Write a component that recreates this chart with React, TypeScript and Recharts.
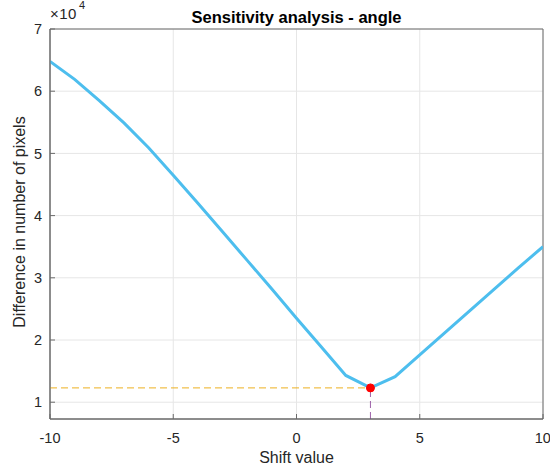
import React from "react";
import {
  LineChart,
  Line,
  XAxis,
  YAxis,
  CartesianGrid,
  ReferenceLine,
  ReferenceDot,
  ReferenceArea,
} from "recharts";

const shifts = [-10, -9, -8, -7, -6, -5, -4, -3, -2, -1, 0, 1, 2, 3, 4, 5, 6, 7, 8, 9, 10];
const pixelDiff = [
  64800, 61900, 58500, 54900, 50900, 46500, 42000, 37400, 32800, 28200, 23500,
  18900, 14300, 12300, 14100, 17600, 21100, 24600, 28100, 31600, 35000,
];
const xTicks = [-10, -5, 0, 5, 10];
const yTicks = [10000, 20000, 30000, 40000, 50000, 60000, 70000];

const minShift = 3;
const minDiff = 12300;

const data = shifts.map((s, i) => ({ shift: s, diff: pixelDiff[i] }));

const font = "'Liberation Sans', Arial, Helvetica, sans-serif";
const axisColor = "#6b6b6b";

export default function App() {
  return (
    <div
      style={{
        position: "absolute",
        left: 0,
        top: 0,
        width: 550,
        height: 469,
        background: "#fff",
        fontFamily: font,
      }}
    >
      <div
        style={{
          position: "absolute",
          left: 50,
          width: 493,
          top: 8,
          textAlign: "center",
          fontWeight: "bold",
          fontSize: 16.5,
          color: "#000",
          whiteSpace: "nowrap",
        }}
      >
        Sensitivity analysis - angle
      </div>
      <div
        style={{
          position: "absolute",
          left: 50,
          top: 5,
          fontSize: 15,
          color: "#262626",
          whiteSpace: "nowrap",
          letterSpacing: 0.5,
        }}
      >
        ×10
      </div>
      <div
        style={{
          position: "absolute",
          left: 79,
          top: -1,
          fontSize: 11,
          color: "#262626",
        }}
      >
        4
      </div>
      <div
        style={{
          position: "absolute",
          left: 20 - 150,
          top: 222 - 9,
          width: 300,
          textAlign: "center",
          fontSize: 16,
          color: "#262626",
          transform: "rotate(-90deg)",
          whiteSpace: "nowrap",
        }}
      >
        Difference in number of pixels
      </div>
      <div
        style={{
          position: "absolute",
          left: 50,
          width: 493,
          top: 449,
          textAlign: "center",
          fontSize: 16,
          color: "#262626",
        }}
      >
        Shift value
      </div>

      <LineChart
        width={550}
        height={469}
        data={data}
        margin={{ top: 29, right: 7, bottom: 0, left: 0 }}
        style={{ fontFamily: font }}
      >
        <CartesianGrid stroke="#e6e6e6" />
        <XAxis
          dataKey="shift"
          type="number"
          domain={[-10, 10]}
          ticks={xTicks}
          height={50}
          stroke={axisColor}
          tickSize={-5}
          tickMargin={19}
          tick={{ fill: "#262626", fontSize: 14.5 }}
          allowDataOverflow
        />
        <YAxis
          type="number"
          domain={[7300, 70000]}
          ticks={yTicks}
          width={50}
          stroke={axisColor}
          tickSize={-5}
          tickMargin={13}
          tickFormatter={(v: number) => String(v / 10000)}
          tick={{ fill: "#262626", fontSize: 14.5 }}
          allowDataOverflow
        />
        <ReferenceArea
          x1={-10}
          x2={10}
          y1={7300}
          y2={70000}
          fill="none"
          stroke={axisColor}
          strokeWidth={1}
        />
        <ReferenceLine
          segment={[
            { x: -10, y: minDiff },
            { x: minShift, y: minDiff },
          ]}
          stroke="#EDB120"
          strokeDasharray="7 4"
          strokeWidth={1}
        />
        <ReferenceLine
          segment={[
            { x: minShift, y: 7300 },
            { x: minShift, y: minDiff },
          ]}
          stroke="#7E2F8E"
          strokeOpacity={0.75}
          strokeDasharray="7 4"
          strokeWidth={1}
        />
        <Line
          type="linear"
          dataKey="diff"
          stroke="#4DBEEE"
          strokeWidth={3}
          dot={false}
          activeDot={false}
          isAnimationActive={false}
        />
        <ReferenceDot x={minShift} y={minDiff} r={4} fill="#FF0000" stroke="#FF0000" />
      </LineChart>
    </div>
  );
}
